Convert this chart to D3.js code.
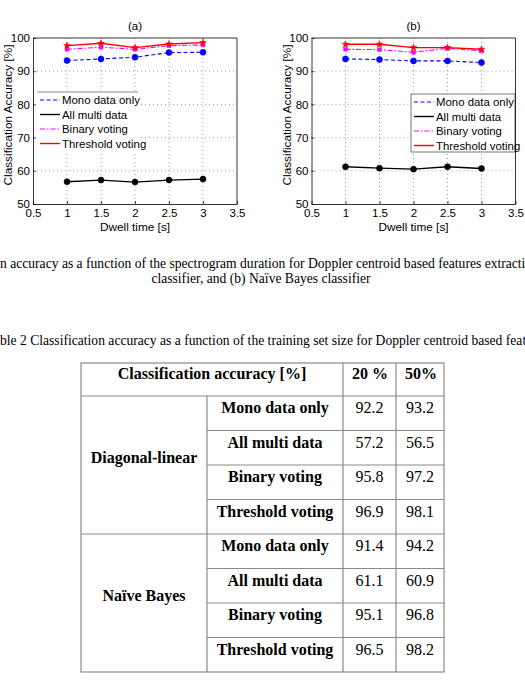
<!DOCTYPE html>
<html>
<head>
<meta charset="utf-8">
<script src="https://cdn.jsdelivr.net/npm/d3@7"></script>
<style>
  body { margin: 0; background: #fff; }
  svg { display: block; }
  .tick text { font-family: "Liberation Sans", Arial, sans-serif; }
</style>
</head>
<body>
<svg id="page" width="525" height="680"></svg>
<script>
// values
const dwell = [1, 1.5, 2, 2.5, 3];
const seriesNames = ["Mono data only", "All multi data", "Binary voting", "Threshold voting"];

const monoA   = [93.2, 93.7, 94.2, 95.6, 95.7];
const multiA  = [56.7, 57.2, 56.6, 57.2, 57.5];
const binaryA = [96.6, 97.2, 96.6, 97.7, 97.9];
const threshA = [97.7, 98.4, 97.1, 98.2, 98.6];

const monoB   = [93.7, 93.5, 93.1, 93.1, 92.6];
const multiB  = [61.2, 60.8, 60.5, 61.2, 60.7];
const binaryB = [96.6, 96.5, 95.7, 96.9, 96.1];
const threshB = [98.1, 98.1, 97.1, 97.1, 96.6];

const xTicks = [0.5, 1, 1.5, 2, 2.5, 3, 3.5];
const yTicks = [50, 60, 70, 80, 90, 100];

// table
const tableHeader = ["Classification accuracy [%]", "20 %", "50%"];
const classifiers = ["Diagonal-linear", "Naïve Bayes"];
const acc20 = [92.2, 57.2, 95.8, 96.9, 91.4, 61.1, 95.1, 96.5];
const acc50 = [93.2, 56.5, 97.2, 98.1, 94.2, 60.9, 96.8, 98.2];

const captionFig = "Figure 7 Classification accuracy as a function of the spectrogram duration for Doppler centroid based features extraction: (a) diagonal-linear";
const captionFig2 = "classifier, and (b) Naïve Bayes classifier";
const captionTab = "Table 2 Classification accuracy as a function of the training set size for Doppler centroid based features extraction";

const svg = d3.select("#page");
svg.append("rect").attr("width", 525).attr("height", 680).attr("fill", "#fff");

const sans = "Liberation Sans, Arial, sans-serif";
const styles = [
  {color: "#0000ff", dash: "4,2.5", width: 1.1, marker: "circle"},
  {color: "#000000", dash: null, width: 1.4, marker: "circle"},
  {color: "#ff00ff", dash: "5,2,1.5,2", width: 1.1, marker: "square"},
  {color: "#ff0000", dash: null, width: 1.4, marker: "star"}
];

function drawPanel(left, title, data, legend) {
  const top = 38, bottom = 204, right = left + 204;
  const x = d3.scaleLinear().domain([0.5, 3.5]).range([left, right]);
  const y = d3.scaleLinear().domain([50, 100]).range([bottom, top]);
  const g = svg.append("g");

  // grid
  g.append("g").selectAll("line").data(xTicks.slice(1, -1)).join("line")
    .attr("x1", d => x(d)).attr("x2", d => x(d)).attr("y1", top).attr("y2", bottom)
    .attr("stroke", "#777").attr("stroke-width", 0.7).attr("stroke-dasharray", "1,3");
  g.append("g").selectAll("line").data(yTicks.slice(1, -1)).join("line")
    .attr("x1", left).attr("x2", right).attr("y1", d => y(d)).attr("y2", d => y(d))
    .attr("stroke", "#777").attr("stroke-width", 0.7).attr("stroke-dasharray", "1,3");

  // legend box sits over the grid
  const lg = g.append("g");
  if (legend.full) {
    lg.append("rect").attr("x", legend.x0).attr("y", legend.y0)
      .attr("width", legend.x1 - legend.x0).attr("height", legend.y1 - legend.y0)
      .attr("fill", "#fff").attr("stroke", "#555").attr("stroke-width", 0.8);
  } else {
    lg.append("rect").attr("x", legend.x0).attr("y", legend.y0)
      .attr("width", legend.x1 - legend.x0).attr("height", legend.y1 - legend.y0)
      .attr("fill", "#fff");
    lg.append("line").attr("x1", legend.x0).attr("x2", legend.x1)
      .attr("y1", legend.y0).attr("y2", legend.y0)
      .attr("stroke", "#888").attr("stroke-width", 1.2);
  }
  seriesNames.forEach((name, i) => {
    const s = styles[i];
    const yy = legend.y0 + 8 + i * 14.5;
    lg.append("line").attr("x1", legend.lx).attr("x2", legend.lx + 20)
      .attr("y1", yy).attr("y2", yy)
      .attr("stroke", s.color).attr("stroke-width", s.width)
      .attr("stroke-dasharray", s.dash);
    lg.append("text").attr("x", legend.lx + 22).attr("y", yy + 4.3)
      .attr("font-family", sans).attr("font-size", 11.4)
      .text(name);
  });

  // axes
  const xa = g.append("g").attr("transform", `translate(0,${bottom})`)
    .call(d3.axisBottom(x).tickValues(xTicks).tickSizeInner(-3).tickSizeOuter(0).tickPadding(5)
      .tickFormat(d3.format("")));
  const ya = g.append("g").attr("transform", `translate(${left},0)`)
    .call(d3.axisLeft(y).tickValues(yTicks).tickSizeInner(-3).tickSizeOuter(0).tickPadding(3));
  [xa, ya].forEach(a => {
    a.selectAll("text").attr("font-size", 11.5).attr("fill", "#000");
    a.select(".domain").attr("stroke", "#000").attr("stroke-width", 0.8);
    a.selectAll(".tick line").attr("stroke", "#000").attr("stroke-width", 0.7);
  });
  g.append("line").attr("x1", left).attr("x2", right).attr("y1", top).attr("y2", top)
    .attr("stroke", "#000").attr("stroke-width", 0.8);
  g.append("line").attr("x1", right).attr("x2", right).attr("y1", top).attr("y2", bottom)
    .attr("stroke", "#000").attr("stroke-width", 0.8);

  // series
  const line = d3.line().x((d, i) => x(dwell[i])).y(d => y(d));
  data.forEach((vals, i) => {
    const s = styles[i];
    g.append("path").datum(vals).attr("d", line).attr("fill", "none")
      .attr("stroke", s.color).attr("stroke-width", s.width)
      .attr("stroke-dasharray", s.dash);
    const sym = s.marker === "circle" ? d3.symbolCircle : s.marker === "square" ? d3.symbolSquare : d3.symbolStar;
    const size = s.marker === "circle" ? 28 : 14;
    g.append("g").selectAll("path").data(vals).join("path")
      .attr("transform", (d, j) => `translate(${x(dwell[j])},${y(d)})`)
      .attr("d", d3.symbol(sym, size)).attr("fill", s.color)
      .attr("stroke", s.color).attr("stroke-width", 0.6);
  });

  // labels
  g.append("text").attr("x", (left + right) / 2).attr("y", 30).attr("text-anchor", "middle")
    .attr("font-family", sans).attr("font-size", 11.5).text(title);
  g.append("text").attr("x", (left + right) / 2).attr("y", 231).attr("text-anchor", "middle")
    .attr("font-family", sans).attr("font-size", 11.8).text("Dwell time [s]");
  g.append("text").attr("transform", `translate(${left - 21},${(top + bottom) / 2 - 6}) rotate(-90)`)
    .attr("text-anchor", "middle")
    .attr("font-family", sans).attr("font-size", 11.8)
    .text("Classification Accuracy [%]");
}

drawPanel(33, "(a)", [monoA, multiA, binaryA, threshA],
  {x0: 37, x1: 138, y0: 92, y1: 152, lx: 40, full: false});
drawPanel(311.5, "(b)", [monoB, multiB, binaryB, threshB],
  {x0: 411, x1: 515, y0: 94, y1: 152, lx: 414, full: true});

// captions (the page is cropped on both sides)
const serif = "Liberation Serif, Times New Roman, serif";
const capSize = 13.6;
function cropText(full, startWord, y, xStart) {
  const t = svg.append("text").attr("y", y).attr("font-family", serif).attr("font-size", capSize).text(full);
  const probe = svg.append("text").attr("font-family", serif).attr("font-size", capSize)
    .text(full.slice(0, full.indexOf(startWord)));
  const w = probe.node().getComputedTextLength();
  probe.remove();
  t.attr("x", xStart - w);
}
cropText(captionFig, "n accuracy", 267.5, 0);
svg.append("text").attr("x", 261).attr("y", 282.5).attr("text-anchor", "middle")
  .attr("font-family", serif).attr("font-size", capSize).text(captionFig2);
cropText(captionTab, "ble 2", 345, 0);

// table
const colX = [81, 207, 343, 396, 444];
const headTop = 363, headBottom = 396;
const rowY = d3.scaleBand().domain(d3.range(acc20.length)).range([headBottom, 672]);
const tb = svg.append("g");
const border = "#8a8a8a";
const fmt = d3.format(".1f");
const tSize = 16;

// outer + header lines
tb.append("rect").attr("x", colX[0]).attr("y", headTop)
  .attr("width", colX[4] - colX[0]).attr("height", 672 - headTop)
  .attr("fill", "none").attr("stroke", border).attr("stroke-width", 1.2);
tb.append("line").attr("x1", colX[0]).attr("x2", colX[4]).attr("y1", headBottom).attr("y2", headBottom)
  .attr("stroke", border).attr("stroke-width", 1.2);
// group separator
tb.append("line").attr("x1", colX[0]).attr("x2", colX[4]).attr("y1", rowY(4)).attr("y2", rowY(4))
  .attr("stroke", border).attr("stroke-width", 1.2);
// row lines inside groups
tb.selectAll(".rl").data([1, 2, 3, 5, 6, 7]).join("line")
  .attr("x1", colX[1]).attr("x2", colX[4]).attr("y1", d => rowY(d)).attr("y2", d => rowY(d))
  .attr("stroke", border).attr("stroke-width", 1.2);
// column lines
tb.append("line").attr("x1", colX[1]).attr("x2", colX[1]).attr("y1", headBottom).attr("y2", 672)
  .attr("stroke", border).attr("stroke-width", 1.2);
[colX[2], colX[3]].forEach(cx => tb.append("line").attr("x1", cx).attr("x2", cx)
  .attr("y1", headTop).attr("y2", 672).attr("stroke", border).attr("stroke-width", 1.2));

// header text
const headCx = [(colX[0] + colX[2]) / 2, (colX[2] + colX[3]) / 2 + 0.5, (colX[3] + colX[4]) / 2 + 1];
tb.selectAll(".ht").data(tableHeader).join("text")
  .attr("x", (d, i) => headCx[i]).attr("y", headTop + 16).attr("text-anchor", "middle")
  .attr("font-family", serif).attr("font-size", tSize).attr("font-weight", "bold").text(d => d);

// classifier names
tb.selectAll(".cn").data(classifiers).join("text")
  .attr("x", (colX[0] + colX[1]) / 2).attr("y", (d, i) => (rowY(i * 4) + rowY(i * 4 + 3) + rowY.bandwidth()) / 2 - 2)
  .attr("text-anchor", "middle")
  .attr("font-family", serif).attr("font-size", tSize).attr("font-weight", "bold").text(d => d);

// rows
const rows = acc20.map((v, i) => ({name: seriesNames[i % 4], a: v, b: acc50[i], i}));
const rg = tb.selectAll(".row").data(rows).join("g");
rg.append("text").attr("x", (colX[1] + colX[2]) / 2).attr("y", d => rowY(d.i) + 17)
  .attr("text-anchor", "middle").attr("font-family", serif).attr("font-size", tSize)
  .attr("font-weight", "bold").text(d => d.name);
rg.append("text").attr("x", (colX[2] + colX[3]) / 2).attr("y", d => rowY(d.i) + 17)
  .attr("text-anchor", "middle").attr("font-family", serif).attr("font-size", tSize).text(d => fmt(d.a));
rg.append("text").attr("x", (colX[3] + colX[4]) / 2).attr("y", d => rowY(d.i) + 17)
  .attr("text-anchor", "middle").attr("font-family", serif).attr("font-size", tSize).text(d => fmt(d.b));
</script>
</body>
</html>
